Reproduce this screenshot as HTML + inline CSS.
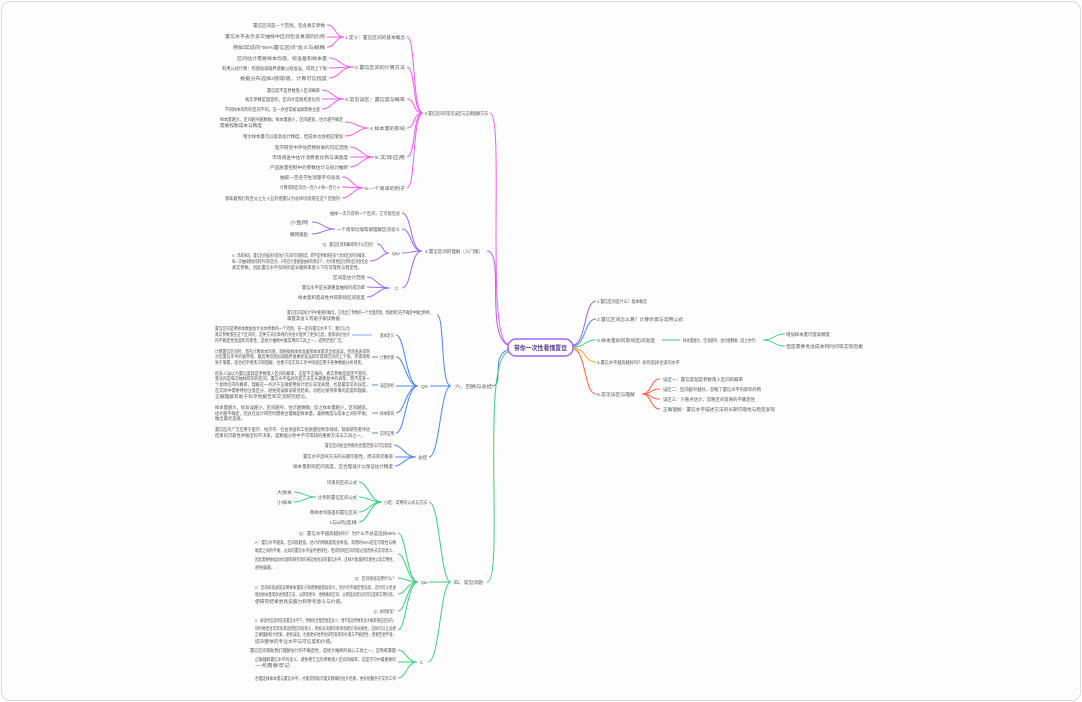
<!DOCTYPE html>
<html><head><meta charset="utf-8"><style>
html,body{margin:0;padding:0;background:#fff;}
.f{position:absolute;left:1px;top:1px;width:1078px;height:698px;border:1px solid #dcdcdc;border-radius:9px;background:#fdfdfd;}
svg{position:absolute;left:0;top:0;}
text{font-family:"Liberation Sans","Noto Sans CJK SC",sans-serif;font-size:4.6px;fill:#555;}
path{fill:none;stroke-width:1;}
.m{stroke:#f25cf0;}.p{stroke:#a066f2;}.b{stroke:#4a86f5;}.g{stroke:#3ccf7c;}.o{stroke:#f5a623;}.r{stroke:#ff6040;}
</style></head><body><div class="f"></div>
<svg width="1082" height="702" viewBox="0 0 1082 702">
<rect x="508" y="339" width="65" height="17" rx="8" fill="#fff" stroke="#a066f2" stroke-width="1.5"/>
<text x="514" y="350" textLength="53" lengthAdjust="spacingAndGlyphs" style="font-size:6.5px;font-weight:bold;fill:#5a3a8a">带你一次性看懂置信</text>

<!-- magenta -->
<path class="m" d="M508 344 C485 340,505 113,490 113"/>
<text x="425" y="115" textLength="63" lengthAdjust="spacingAndGlyphs">5 置信区间的常见误区与正确理解方法</text>
<path class="m" d="M423 113 C412 113,416 37,407 37"/><path class="m" d="M423 113 C412 113,416 67,407 67"/>
<path class="m" d="M423 113 C412 113,416 99,407 99"/><path class="m" d="M423 113 C412 113,416 128,407 128"/>
<path class="m" d="M423 113 C412 113,416 157,407 157"/><path class="m" d="M423 113 C412 113,416 188,407 188"/>
<text x="345" y="39" textLength="60" lengthAdjust="spacingAndGlyphs">1.定义：置信区间的基本概念</text>
<text x="355" y="69" textLength="50" lengthAdjust="spacingAndGlyphs">2.置信区间的计算方法</text>
<text x="345" y="101" textLength="60" lengthAdjust="spacingAndGlyphs">3.常见误区：置信度与概率</text>
<text x="370" y="130" textLength="35" lengthAdjust="spacingAndGlyphs">4.样本量的影响</text>
<text x="375" y="159" textLength="30" lengthAdjust="spacingAndGlyphs">5.实际应用</text>
<text x="365" y="190" textLength="40" lengthAdjust="spacingAndGlyphs">6.一个简单的例子</text>
<path class="m" d="M344 37 C335 37,336 25,327 25"/><path class="m" d="M344 37 L327 37"/><path class="m" d="M344 37 C335 37,336 47,327 47"/>
<text x="253" y="27" textLength="72" lengthAdjust="spacingAndGlyphs">置信区间是一个范围，包含真实参数</text>
<text x="225" y="38" textLength="100" lengthAdjust="spacingAndGlyphs">置信水平表示多次抽样中区间包含真值的比例</text>
<text x="233" y="49" textLength="92" lengthAdjust="spacingAndGlyphs">例如常说的“95%置信区间”含义与解释</text>
<path class="m" d="M354 67 C340 67,340 58,329 58"/><path class="m" d="M354 67 L329 68"/><path class="m" d="M354 67 C340 67,340 78,329 78"/>
<text x="237" y="60" textLength="90" lengthAdjust="spacingAndGlyphs">区间估计需要样本均值、标准差和样本量</text>
<text x="222" y="70" textLength="105" lengthAdjust="spacingAndGlyphs">利用公式计算：均值加减临界值乘以标准误，得到上下限</text>
<text x="240" y="80" textLength="87" lengthAdjust="spacingAndGlyphs">根据分布选择z值或t值，计算可信程度</text>
<path class="m" d="M344 99 C333 99,332 90,322 90"/><path class="m" d="M344 99 L322 99"/><path class="m" d="M344 99 C333 99,332 109,322 109"/>
<text x="267" y="92" textLength="53" lengthAdjust="spacingAndGlyphs">置信度不是参数落入区间概率</text>
<text x="245" y="101" textLength="75" lengthAdjust="spacingAndGlyphs">真实参数是固定的，区间才是随机变化的</text>
<text x="225" y="111" textLength="95" lengthAdjust="spacingAndGlyphs">不同样本得到的区间不同，这一点经常被误解需要注意</text>
<path class="m" d="M369 128 C358 128,356 122,345 122"/><path class="m" d="M369 128 C358 128,356 136,345 136"/>
<text x="220" y="121" textLength="123" lengthAdjust="spacingAndGlyphs">样本量越大，区间越窄越精确；样本量越小，区间越宽，估计越不确定</text>
<text x="220" y="127" textLength="42" lengthAdjust="spacingAndGlyphs">需要权衡成本与精度</text>
<text x="243" y="138" textLength="100" lengthAdjust="spacingAndGlyphs">增大样本量可以提高估计精度，但成本也会相应增加</text>
<path class="m" d="M374 157 C362 157,360 147,350 147"/><path class="m" d="M374 157 L350 157"/><path class="m" d="M374 157 C362 157,360 167,350 167"/>
<text x="275" y="149" textLength="73" lengthAdjust="spacingAndGlyphs">医学研究中评估药物效果的可信范围</text>
<text x="272" y="159" textLength="76" lengthAdjust="spacingAndGlyphs">市场调查中估计消费者比例与满意度</text>
<text x="270" y="169" textLength="78" lengthAdjust="spacingAndGlyphs">产品质量控制中的参数估计与统计推断</text>
<path class="m" d="M364 188 C352 188,352 177,342 177"/><path class="m" d="M364 188 L342 187"/><path class="m" d="M364 188 C352 188,352 198,342 198"/>
<text x="280" y="179" textLength="60" lengthAdjust="spacingAndGlyphs">抽取一百名学生测量平均身高</text>
<text x="280" y="189" textLength="60" lengthAdjust="spacingAndGlyphs">计算得到区间为一百六十到一百七十</text>
<text x="225" y="200" textLength="115" lengthAdjust="spacingAndGlyphs">意味着我们有百分之九十五的把握认为总体均值落在这个范围内</text>

<!-- purple -->
<path class="p" d="M508 345 C485 335,505 251,487 251"/>
<text x="425" y="253" textLength="58" lengthAdjust="spacingAndGlyphs">3 置信区间的理解（入门版）</text>
<path class="p" d="M422 251 C410 251,412 213,402 213"/><path class="p" d="M422 251 C410 251,412 229,402 229"/>
<path class="p" d="M422 251 C410 251,412 253,402 253"/><path class="p" d="M422 251 C410 251,412 288,402 288"/>
<text x="330" y="215" textLength="70" lengthAdjust="spacingAndGlyphs">抽样一次只得到一个区间，它可能包含</text>
<text x="337" y="231" textLength="63" lengthAdjust="spacingAndGlyphs">一个简单比喻帮助理解区间含义</text>
<text x="392" y="255" textLength="8" lengthAdjust="spacingAndGlyphs">Q&amp;A</text>
<text x="395" y="290">C</text>
<path class="p" d="M335 229 C324 229,322 222,312 222"/><path class="p" d="M335 229 C324 229,322 234,312 234"/>
<text x="290" y="224" textLength="18" lengthAdjust="spacingAndGlyphs">小鱼网</text><text x="290" y="236" textLength="18" lengthAdjust="spacingAndGlyphs">撒网捕鱼</text>
<path class="p" d="M389 253 C382 253,384 244,377 244"/><path class="p" d="M389 253 C382 253,380 261,370 261"/>
<text x="323" y="246" textLength="52" lengthAdjust="spacingAndGlyphs">Q：置信区间和概率有什么区别？</text>
<text x="232" y="257" textLength="136" lengthAdjust="spacingAndGlyphs">A：简单来说，置信区间描述的是估计方法的可靠程度，而不是参数落在某个具体区间内的概率，</text>
<text x="232" y="263" textLength="136" lengthAdjust="spacingAndGlyphs">每一次抽样都会得到不同的区间，只有在大量重复抽样的情况下，大约有相应比例的区间会包含</text>
<text x="232" y="269" textLength="130" lengthAdjust="spacingAndGlyphs">真实参数，因此置信水平反映的是长期频率意义下的可靠性与稳定性。</text>
<path class="p" d="M390 288 C378 288,376 277,367 277"/><path class="p" d="M390 288 L367 287"/><path class="p" d="M390 288 C378 288,376 297,367 297"/>
<text x="333" y="279" textLength="32" lengthAdjust="spacingAndGlyphs">区间是估计范围</text>
<text x="302" y="289" textLength="63" lengthAdjust="spacingAndGlyphs">置信水平是长期重复抽样的成功率</text>
<text x="298" y="299" textLength="67" lengthAdjust="spacingAndGlyphs">样本量和变异性共同影响区间宽度</text>

<!-- blue -->
<path class="b" d="M508 350 C490 355,505 386,492 386"/>
<text x="455" y="388" textLength="37" lengthAdjust="spacingAndGlyphs">六、回顾与总结</text>
<path class="b" d="M451 386 C440 386,445 315,437 315"/><path class="b" d="M451 386 L430 386"/><path class="b" d="M451 386 C440 386,440 457,429 457"/>
<text x="287" y="314" textLength="146" lengthAdjust="spacingAndGlyphs">置信区间是统计学中重要的概念，它给出了参数的一个合理范围，帮助我们在不确定中做出判断，</text>
<text x="287" y="320" textLength="53" lengthAdjust="spacingAndGlyphs">掌握其含义有助于解读数据</text>
<text x="421" y="388" textLength="7" lengthAdjust="spacingAndGlyphs">QS</text>
<text x="418" y="459" textLength="9" lengthAdjust="spacingAndGlyphs">总结</text>
<path class="b" d="M418 386 C406 386,405 335,396 335"/><path class="b" d="M418 386 C406 386,405 357,396 357"/>
<path class="b" d="M418 386 L396 386"/><path class="b" d="M418 386 C406 386,405 413,396 413"/><path class="b" d="M418 386 C406 386,405 433,396 433"/>
<text x="380" y="337" textLength="14" lengthAdjust="spacingAndGlyphs">基本定义</text><text x="380" y="359" textLength="14" lengthAdjust="spacingAndGlyphs">计算步骤</text><text x="380" y="387" textLength="14" lengthAdjust="spacingAndGlyphs">误区辨析</text><text x="380" y="415" textLength="14" lengthAdjust="spacingAndGlyphs">样本影响</text><text x="380" y="435" textLength="14" lengthAdjust="spacingAndGlyphs">实际应用</text>
<path d="M372 335 L352 335" style="stroke:#a9c6fa;stroke-width:1.5"/><path class="b" d="M378 357 L372 357"/><path class="b" d="M378 385 L372 385"/><path class="b" d="M378 413 L372 413"/><path class="b" d="M378 433 L372 433"/>
<text x="215" y="330" textLength="135" lengthAdjust="spacingAndGlyphs">置信区间是用样本数据估计总体参数的一个范围，在一定的置信水平下，我们认为</text>
<text x="215" y="336" textLength="135" lengthAdjust="spacingAndGlyphs">真实参数落在这个区间内，这种方法比单纯的点估计提供了更多信息，能够表达估计</text>
<text x="215" y="342" textLength="130" lengthAdjust="spacingAndGlyphs">的不确定性程度和可靠性，是统计推断中最常用的工具之一，适用范围广泛。</text>
<text x="215" y="353" textLength="155" lengthAdjust="spacingAndGlyphs">计算置信区间时，首先计算样本均值，再根据样本标准差和样本量求出标准误，然后查表得到</text>
<text x="215" y="358" textLength="155" lengthAdjust="spacingAndGlyphs">对应置信水平的临界值，最后用均值加减临界值乘标准误即可得到区间的上下限，步骤清晰</text>
<text x="215" y="364" textLength="150" lengthAdjust="spacingAndGlyphs">易于掌握，适合初学者练习和理解，也便于在实际工作中快速应用于各种数据分析场景。</text>
<text x="215" y="375" textLength="155" lengthAdjust="spacingAndGlyphs">很多人误以为置信度就是参数落入区间的概率，这是不正确的。真实参数是固定不变的，</text>
<text x="215" y="380" textLength="155" lengthAdjust="spacingAndGlyphs">变化的是每次抽样得到的区间，置信水平描述的是方法在长期重复中的表现，而不是某一</text>
<text x="215" y="386" textLength="155" lengthAdjust="spacingAndGlyphs">个具体区间的概率，理解这一点对于正确使用统计结论非常关键，也是最常见的误区。</text>
<text x="215" y="392" textLength="155" lengthAdjust="spacingAndGlyphs">在实际中需要特别注意区分，避免错误解读研究结果，对结论保持审慎的态度和理解。</text>
<text x="215" y="398" textLength="95" lengthAdjust="spacingAndGlyphs">正确理解有助于科学地报告和交流研究结论。</text>
<text x="215" y="409" textLength="155" lengthAdjust="spacingAndGlyphs">样本量越大，标准误越小，区间越窄，估计越精确；反之样本量越小，区间越宽，</text>
<text x="215" y="415" textLength="155" lengthAdjust="spacingAndGlyphs">估计越不确定，因此在设计研究时需要合理确定样本量，兼顾精度与成本之间的平衡，</text>
<text x="215" y="420" textLength="30" lengthAdjust="spacingAndGlyphs">做出最优选择。</text>
<text x="215" y="431" textLength="155" lengthAdjust="spacingAndGlyphs">置信区间广泛应用于医学、经济学、社会调查和工程质量控制等领域，帮助研究者评估</text>
<text x="215" y="437" textLength="150" lengthAdjust="spacingAndGlyphs">结果的可靠性并做出科学决策，是数据分析中不可或缺的重要方法与工具之一。</text>
<path class="b" d="M416 457 C405 457,402 445,394 445"/><path class="b" d="M416 457 L395 457"/><path class="b" d="M416 457 C405 457,402 466,395 466"/>
<text x="325" y="447" textLength="67" lengthAdjust="spacingAndGlyphs">置信区间给出参数的合理范围与可信程度</text>
<text x="303" y="458" textLength="90" lengthAdjust="spacingAndGlyphs">置信水平反映方法的长期可靠性，而非单次概率</text>
<text x="293" y="468" textLength="100" lengthAdjust="spacingAndGlyphs">样本量影响区间宽度，应合理设计以保证估计精度</text>

<!-- green -->
<path class="g" d="M508 352 C480 360,505 582,487 582"/>
<text x="454" y="584" textLength="29" lengthAdjust="spacingAndGlyphs">四、常见问题</text>
<path class="g" d="M451 582 C440 582,440 502,429 502"/><path class="g" d="M451 582 L429 582"/><path class="g" d="M451 582 C440 582,440 662,428 662"/>
<text x="384" y="504" textLength="43" lengthAdjust="spacingAndGlyphs">小结：常用的公式与方法</text>
<text x="421" y="584" textLength="7" lengthAdjust="spacingAndGlyphs">Q&amp;A</text>
<text x="420" y="664">C</text>
<path class="g" d="M382 502 C370 502,368 482,359 482"/><path class="g" d="M382 502 C370 502,368 497,359 497"/><path class="g" d="M382 502 C370 502,368 512,359 512"/><path class="g" d="M382 502 C370 502,368 522,359 522"/>
<text x="327" y="484" textLength="30" lengthAdjust="spacingAndGlyphs">均值的区间公式</text>
<text x="318" y="499" textLength="39" lengthAdjust="spacingAndGlyphs">比例的置信区间公式</text>
<text x="310" y="514" textLength="47" lengthAdjust="spacingAndGlyphs">两样本均值差的置信区间</text>
<text x="330" y="524" textLength="27" lengthAdjust="spacingAndGlyphs">t与z的选择</text>
<path class="g" d="M316 497 C305 497,303 492,294 492"/><path class="g" d="M316 497 C305 497,303 502,294 502"/>
<text x="277" y="494" textLength="15" lengthAdjust="spacingAndGlyphs">大样本</text><text x="277" y="504" textLength="15" lengthAdjust="spacingAndGlyphs">小样本</text>
<path class="g" d="M418 582 C407 582,406 533,398 533"/><path class="g" d="M418 582 C407 582,406 554,398 554"/><path class="g" d="M418 582 C407 582,406 578,398 578"/>
<path class="g" d="M418 582 C407 582,406 594,398 594"/><path class="g" d="M418 582 C407 582,406 611,398 611"/><path class="g" d="M418 582 C407 582,406 630,398 630"/>
<text x="299" y="535" textLength="97" lengthAdjust="spacingAndGlyphs">Q：置信水平越高越好吗？为什么不总是选择99%</text>
<text x="255" y="544" textLength="141" lengthAdjust="spacingAndGlyphs">A：置信水平越高，区间就越宽，估计的精确度就会降低。常用的95%是在可靠性与精</text>
<text x="255" y="552" textLength="141" lengthAdjust="spacingAndGlyphs">确度之间的平衡，过高的置信水平虽然更保险，但得到的区间可能过宽而失去实际意义，</text>
<text x="255" y="561" textLength="141" lengthAdjust="spacingAndGlyphs">因此需要根据具体问题和研究目的来选择合适的置信水平，这样才能兼顾可靠性以及实用性，</text>
<text x="255" y="569" textLength="20" lengthAdjust="spacingAndGlyphs">避免偏差。</text>
<text x="355" y="580" textLength="41" lengthAdjust="spacingAndGlyphs">Q：区间很宽说明什么？</text>
<text x="255" y="589" textLength="141" lengthAdjust="spacingAndGlyphs">A：区间很宽通常说明样本量较小或者数据变异较大，估计的不确定性较高，这时可以考虑</text>
<text x="255" y="596" textLength="141" lengthAdjust="spacingAndGlyphs">增加样本量或改进测量方法，以获得更窄、更精确的区间，从而提高结论的可信度和实用价值，</text>
<text x="255" y="603" textLength="90" lengthAdjust="spacingAndGlyphs">使研究结果更具说服力和参考意义与价值。</text>
<text x="374" y="613" textLength="22" lengthAdjust="spacingAndGlyphs">Q：如何解读？</text>
<text x="255" y="622" textLength="141" lengthAdjust="spacingAndGlyphs">A：解读时应说明在某置信水平下，参数的合理范围是多少，而不是说参数有多大概率落在区间内，</text>
<text x="255" y="630" textLength="141" lengthAdjust="spacingAndGlyphs">同时要结合实际背景说明区间的意义，例如对决策的影响和结论的局限性，这样可以让读者</text>
<text x="255" y="636" textLength="141" lengthAdjust="spacingAndGlyphs">正确理解统计结果，避免误读，也能更好地传达研究发现的价值与不确定性，使报告更严谨，</text>
<text x="255" y="643" textLength="80" lengthAdjust="spacingAndGlyphs">提升整体的专业水平与可信度和价值。</text>
<path class="g" d="M417 662 C407 662,406 650,398 650"/><path class="g" d="M417 662 L398 662"/><path class="g" d="M417 662 C407 662,406 678,398 678"/>
<text x="250" y="652" textLength="146" lengthAdjust="spacingAndGlyphs">置信区间帮助我们理解估计的不确定性，是统计推断的核心工具之一，应熟练掌握</text>
<text x="255" y="661" textLength="141" lengthAdjust="spacingAndGlyphs">正确理解置信水平的含义，避免把它当作参数落入区间的概率，这是学习中最重要的</text>
<text x="255" y="667" textLength="35" lengthAdjust="spacingAndGlyphs">一点需要牢记</text>
<text x="255" y="680" textLength="141" lengthAdjust="spacingAndGlyphs">合理选择样本量与置信水平，才能得到既可靠又精确的估计结果，更好地服务于实际工作</text>

<!-- right -->
<path class="p" d="M573 345 C586 345,584 301,596 301"/>
<path class="b" d="M573 346 C586 346,584 319,596 319"/>
<path class="g" d="M573 347 C586 347,584 340,596 340"/>
<path class="o" d="M573 348 C586 348,584 362,596 362"/>
<path class="r" d="M573 349 C586 349,584 394,596 394"/>
<text x="597" y="303" textLength="50" lengthAdjust="spacingAndGlyphs">1.置信区间是什么？基本概念</text>
<text x="597" y="321" textLength="86" lengthAdjust="spacingAndGlyphs">2.置信区间怎么算？计算步骤与常用公式</text>
<text x="597" y="342" textLength="58" lengthAdjust="spacingAndGlyphs">3.样本量如何影响区间宽度</text>
<text x="597" y="364" textLength="83" lengthAdjust="spacingAndGlyphs">4.置信水平越高越好吗？如何选择合适的水平</text>
<text x="597" y="396" textLength="38" lengthAdjust="spacingAndGlyphs">5.常见误区与理解</text>
<path class="g" d="M662 340 L680 340"/>
<text x="683" y="342" textLength="75" lengthAdjust="spacingAndGlyphs">样本量越大，区间越窄，估计越精确（反之亦然）</text>
<path class="g" d="M763 340 C775 340,773 334,785 334"/><path class="g" d="M763 340 C775 340,773 346,785 346"/>
<text x="786" y="336" textLength="44" lengthAdjust="spacingAndGlyphs">增加样本量可提高精度</text>
<text x="786" y="348" textLength="77" lengthAdjust="spacingAndGlyphs">但是需要考虑成本和时间等实际因素</text>
<path class="r" d="M642 394 C652 394,650 379,660 379"/><path class="r" d="M642 394 C652 394,650 389,660 389"/>
<path class="r" d="M642 394 C652 394,650 399,660 399"/><path class="r" d="M642 394 C652 394,650 409,660 409"/>
<text x="663" y="381" textLength="80" lengthAdjust="spacingAndGlyphs">误区一：置信度就是参数落入区间的概率</text>
<text x="663" y="391" textLength="98" lengthAdjust="spacingAndGlyphs">误区二：区间越窄越好，忽略了置信水平的影响作用</text>
<text x="663" y="401" textLength="92" lengthAdjust="spacingAndGlyphs">误区三：只看点估计，忽略区间反映的不确定性</text>
<text x="663" y="411" textLength="112" lengthAdjust="spacingAndGlyphs">正确理解：置信水平描述方法的长期可靠性与稳定表现</text>
</svg>
</body></html>
